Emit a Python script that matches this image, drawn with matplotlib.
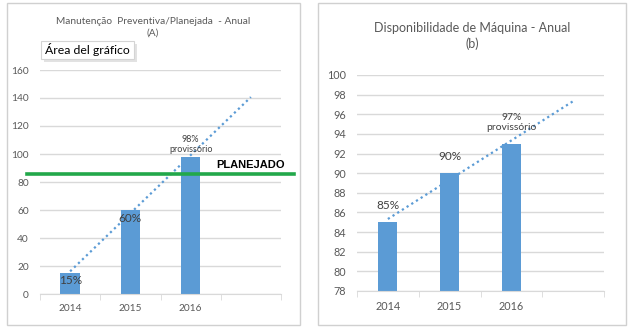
import matplotlib
matplotlib.use("Agg")
import matplotlib.pyplot as plt
import numpy as np
from matplotlib.patches import Rectangle

plt.rcParams['font.family'] = ['Lato', 'DejaVu Sans']

# data
years = ['2014', '2015', '2016', '']
prev_values = [15, 60, 98]
prev_labels = ['15%', '60%', '98%\nprovissório']
planejado = 85.5
disp_values = [85, 90, 93]
disp_labels = ['85%', '90%', '97%\nprovissório']

bar_color = '#5b9bd5'
grid_color = '#d9d9d9'
text_color = '#595959'

W, H = 631, 332
fig = plt.figure(figsize=(W / 100, H / 100), dpi=100)


def px_rect(x0, y0, w, h, **kw):
    # rectangle given in pixels from the top-left corner
    r = Rectangle((x0 / W, 1 - (y0 + h) / H), w / W, h / H, transform=fig.transFigure, **kw)
    fig.patches.append(r)


# panel borders
px_rect(7, 3, 293, 322, fill=False, ec='#d0d0d0', lw=1)
px_rect(318, 3, 308, 322, fill=False, ec='#d0d0d0', lw=1)


def style_axes(ax, ylo, yhi, step, fs):
    ax.set_xlim(-0.5, 3.5)
    ax.set_ylim(ylo, yhi)
    ax.set_yticks(np.arange(ylo, yhi + 0.1, step))
    ax.set_xticks(range(4))
    ax.set_xticklabels(years)
    ax.set_xticks(np.arange(-0.5, 3.6, 1), minor=True)
    ax.tick_params(axis='x', which='major', length=0, pad=7, labelsize=fs, colors=text_color)
    ax.tick_params(axis='x', which='minor', length=4, color=grid_color)
    ax.tick_params(axis='y', length=0, labelsize=fs, colors=text_color, pad=8)
    for s in ['left', 'right', 'top']:
        ax.spines[s].set_visible(False)
    ax.spines['bottom'].set_color(grid_color)
    ax.yaxis.grid(True, color=grid_color, lw=1)
    ax.set_axisbelow(True)


def trend(ax, vals):
    x = np.arange(len(vals))
    k, b = np.polyfit(x, vals, 1)
    xt = np.array([0, 3])
    ax.plot(xt, k * xt + b, ls=(0, (1, 1.5)), color=bar_color, lw=1.6, clip_on=False)


# left chart
ax1 = fig.add_axes([40 / W, 1 - 294 / H, 241 / W, 224 / H])
style_axes(ax1, 0, 160, 20, 7.3)
ax1.bar(range(3), prev_values, width=0.32, color=bar_color, zorder=2)
trend(ax1, prev_values)
ax1.axhline(planejado, xmin=-0.054, xmax=1.054, color='#22a84a', lw=2.6, clip_on=False, zorder=3)
ax1.text(2.42, planejado + 3, 'PLANEJADO', fontsize=8, fontweight='bold', color='black',
         family=['Liberation Sans'], va='bottom')
ax1.text(0, 10, prev_labels[0], ha='center', va='center', fontsize=8.5, color='#404040', zorder=4)
ax1.text(1, 54, prev_labels[1], ha='center', va='center', fontsize=8.5, color='#404040', zorder=4)
ax1.text(2, 100, prev_labels[2], ha='center', va='bottom', fontsize=6.5, color='#404040',
         linespacing=1.2, zorder=4)
fig.text(153 / W, 1 - 27 / H, 'Manutenção  Preventiva/Planejada  - Anual\n(A)',
         ha='center', va='center', fontsize=7.3, color=text_color, linespacing=1.4)

# tooltip box with a soft shadow
px_rect(44, 44, 93, 18, fc='#e2e2e2', ec='none')
px_rect(41, 41, 93, 18, fc='white', ec='#d4d4d4', lw=0.8)
fig.text(45 / W, 1 - 50 / H, 'Área del gráfico', ha='left', va='center', fontsize=8.8,
         color='black')

# right chart
ax2 = fig.add_axes([357 / W, 1 - 291 / H, 247 / W, 216 / H])
style_axes(ax2, 78, 100, 2, 7.8)
ax2.bar(range(3), disp_values, width=0.31, color=bar_color, zorder=2)
trend(ax2, disp_values)
ax2.text(0, 86.1, disp_labels[0], ha='center', va='bottom', fontsize=8.5, color='#404040')
ax2.text(1, 91.1, disp_labels[1], ha='center', va='bottom', fontsize=8.5, color='#404040')
ax2.text(2, 94.2, disp_labels[2], ha='center', va='bottom', fontsize=7.5, color='#404040',
         linespacing=1.15)
fig.text(472 / W, 1 - 36 / H, 'Disponibilidade de Máquina - Anual\n(b)',
         ha='center', va='center', fontsize=9, color=text_color, linespacing=1.4)

fig.savefig('out.png', dpi=100)
